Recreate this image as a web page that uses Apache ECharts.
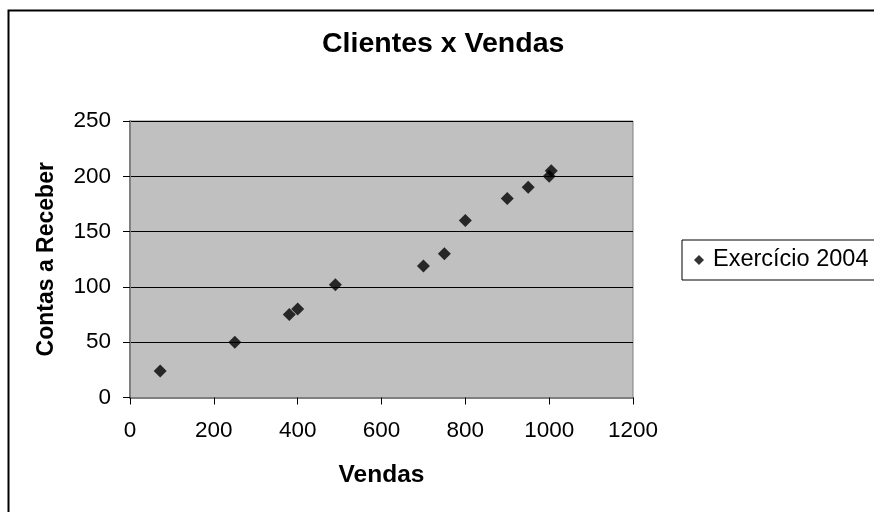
<!DOCTYPE html>
<html>
<head>
<meta charset="utf-8">
<script src="https://cdn.jsdelivr.net/npm/echarts@6/dist/echarts.min.js"></script>
<style>html,body{margin:0;padding:0;background:#fff}#c{width:874px;height:512px}</style>
</head>
<body>
<div id="c"></div>
<script>
const titleText = 'Clientes x Vendas';
const xAxisName = 'Vendas';
const yAxisName = 'Contas a Receber';
const seriesName = 'Exercício 2004';
const vendas = [72, 250, 380, 400, 490, 700, 750, 800, 900, 950, 1000, 1005];
const contasReceber = [24, 50, 75, 80, 102, 119, 130, 160, 180, 190, 200, 205];
const xTicks = [0, 200, 400, 600, 800, 1000, 1200];
const yTicks = [0, 50, 100, 150, 200, 250];

const FONT = 'Liberation Sans, Arial, sans-serif';
const chart = echarts.init(document.getElementById('c'), null, {renderer: 'canvas'});
chart.setOption({
  backgroundColor: '#fff',
  animation: false,
  textStyle: {fontFamily: FONT, color: '#000'},
  title: {
    text: titleText, left: 322, top: 30, padding: 0,
    textStyle: {fontFamily: FONT, fontSize: 28.5, fontWeight: 'bold', color: '#000'}
  },
  graphic: [{
    type: 'rect', silent: true, z: -1,
    shape: {x: 8.5, y: 10.5, width: 3000, height: 3000},
    style: {fill: 'none', stroke: '#000', lineWidth: 2}
  }],
  legend: {
    left: 682, top: 240,
    padding: [8, 30, 8, 12],
    borderColor: '#000', borderWidth: 1,
    backgroundColor: '#fff',
    itemWidth: 10, itemHeight: 10,
    icon: 'diamond',
    textStyle: {fontFamily: FONT, fontSize: 23.5, color: '#000', padding: [0, 0, 0, 4]},
    data: [seriesName]
  },
  grid: {
    left: 130, top: 121, right: 241, bottom: 114.5,
    show: true, backgroundColor: '#c0c0c0', borderColor: '#808080', borderWidth: 1
  },
  xAxis: {
    type: 'value', min: xTicks[0], max: xTicks[xTicks.length - 1], interval: 200,
    name: xAxisName, nameLocation: 'middle', nameGap: 65,
    nameTextStyle: {fontFamily: FONT, fontSize: 24.5, fontWeight: 'bold', color: '#000'},
    axisLine: {show: true, lineStyle: {color: '#808080', width: 2}},
    axisTick: {show: true, inside: false, length: 7, lineStyle: {color: '#000', width: 1}},
    axisLabel: {fontFamily: FONT, fontSize: 22.5, color: '#000', margin: 22, formatter: v => String(v)},
    splitLine: {show: false}
  },
  yAxis: {
    type: 'value', min: yTicks[0], max: yTicks[yTicks.length - 1], interval: 50,
    name: yAxisName, nameLocation: 'middle', nameGap: 72,
    nameTextStyle: {fontFamily: FONT, fontSize: 23, fontWeight: 'bold', color: '#000'},
    axisLine: {show: true, lineStyle: {color: '#808080', width: 2}},
    axisTick: {show: true, inside: false, length: 7, lineStyle: {color: '#000', width: 1}},
    axisLabel: {fontFamily: FONT, fontSize: 22.5, color: '#000', margin: 19, formatter: v => String(v)},
    splitLine: {show: true, lineStyle: {color: '#000', width: 1}}
  },
  series: [{
    name: seriesName,
    type: 'scatter',
    symbol: 'diamond',
    symbolSize: 13,
    itemStyle: {color: '#000'},
    data: vendas.map((v, i) => [v, contasReceber[i]])
  }]
});
</script>
</body>
</html>
